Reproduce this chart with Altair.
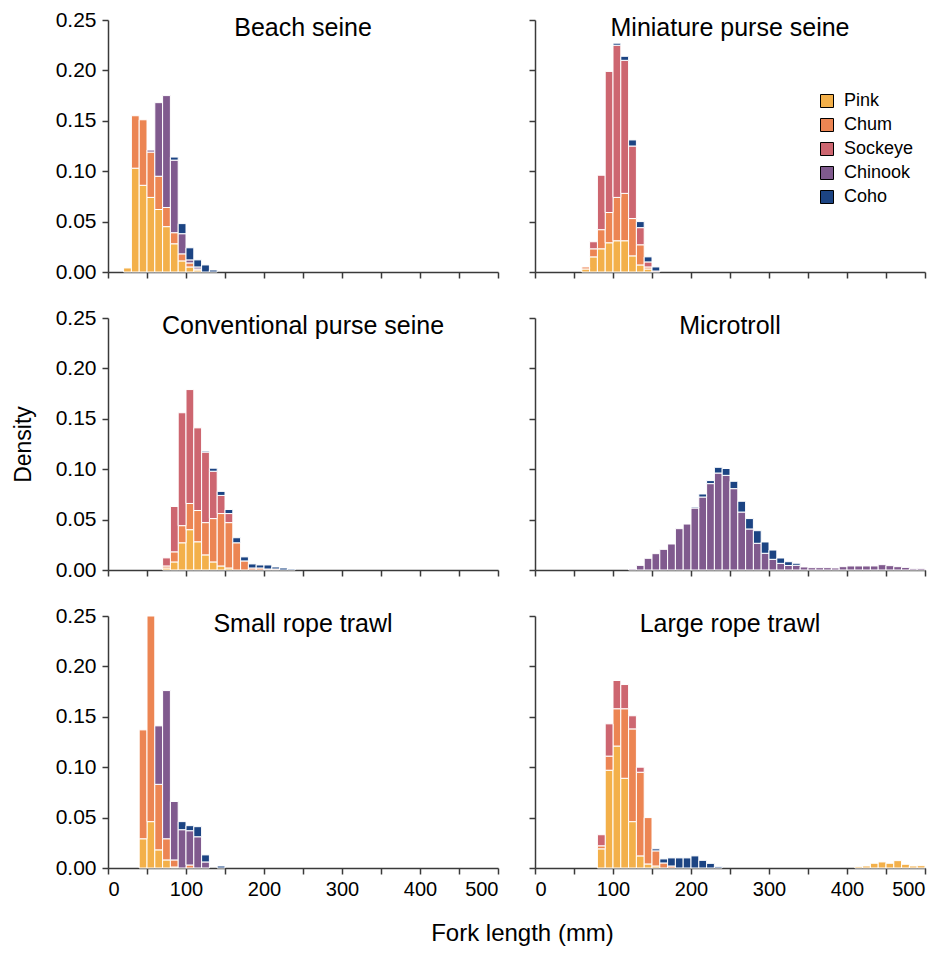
import altair as alt
import pandas as pd

species = ["Pink", "Chum", "Sockeye", "Chinook", "Coho"]
colors = ["#F3B04A", "#EC8553", "#CD6670", "#805A8E", "#1C4483"]

# Beach seine (bin starts, 10 mm bins)
beach_bins = [20, 30, 40, 50, 60, 70, 80, 90, 100, 110, 120, 130]
beach_pink = [0.004, 0.103, 0.086, 0.074, 0.062, 0.045, 0.028, 0.011, 0.005, 0.002, 0, 0]
beach_chum = [0, 0.052, 0.065, 0.045, 0.033, 0.019, 0.011, 0.007, 0.004, 0.001, 0, 0]
beach_chinook = [0, 0, 0, 0.002, 0.073, 0.111, 0.072, 0.020, 0.003, 0.002, 0, 0]
beach_coho = [0, 0, 0, 0, 0, 0, 0.003, 0.010, 0.012, 0.007, 0.007, 0.002]

# Miniature purse seine
mini_bins = [60, 70, 80, 90, 100, 110, 120, 130, 140, 150]
mini_pink = [0.003, 0.015, 0.023, 0.029, 0.031, 0.031, 0.016, 0.007, 0.003, 0]
mini_chum = [0.002, 0.008, 0.019, 0.030, 0.043, 0.047, 0.037, 0.020, 0.002, 0]
mini_sockeye = [0, 0.007, 0.054, 0.140, 0.151, 0.132, 0.072, 0.017, 0.005, 0.001]
mini_coho = [0, 0, 0, 0, 0.002, 0.004, 0.006, 0.006, 0.005, 0.004]

# Conventional purse seine
conv_bins = [70, 80, 90, 100, 110, 120, 130, 140, 150, 160, 170, 180, 190, 200, 210, 220, 230]
conv_pink = [0.002, 0.008, 0.027, 0.040, 0.028, 0.015, 0.008, 0.004, 0.002, 0, 0, 0, 0, 0, 0, 0, 0]
conv_chum = [0.002, 0.010, 0.017, 0.026, 0.031, 0.032, 0.043, 0.052, 0.045, 0.027, 0.009, 0.002, 0.002, 0.001, 0.001, 0, 0]
conv_sockeye = [0.008, 0.045, 0.112, 0.113, 0.082, 0.070, 0.047, 0.018, 0.009, 0, 0, 0, 0, 0, 0, 0, 0]
conv_coho = [0, 0, 0, 0, 0, 0.001, 0.003, 0.004, 0.004, 0.005, 0.004, 0.004, 0.003, 0.004, 0.002, 0.002, 0.001]

# Microtroll
micro_bins = [120, 130, 140, 150, 160, 170, 180, 190, 200, 210, 220, 230, 240, 250, 260, 270, 280, 290, 300,
              310, 320, 330, 340, 350, 360, 370, 380, 390, 400, 410, 420, 430, 440, 450, 460, 470, 480, 490]
micro_chinook = [0.001, 0.0046, 0.0116, 0.0162, 0.0205, 0.0258, 0.041, 0.0456, 0.0615, 0.0724, 0.0857, 0.0962,
                 0.0939, 0.0807, 0.0575, 0.0407, 0.0265, 0.0166, 0.0106, 0.0066, 0.0045, 0.0047, 0.003, 0.0023,
                 0.0023, 0.0023, 0.002, 0.0033, 0.004, 0.004, 0.004, 0.004, 0.0053, 0.0043, 0.0033, 0.0026,
                 0.0013, 0.0016]
micro_coho = [0, 0, 0, 0, 0, 0, 0, 0, 0.001, 0.003, 0.003, 0.0057, 0.0068, 0.0073, 0.0107, 0.0103, 0.0125,
              0.0112, 0.0092, 0.0053, 0.0037, 0.002, 0, 0, 0, 0, 0, 0, 0, 0, 0, 0, 0, 0, 0, 0, 0, 0]

# Small rope trawl
small_bins = [40, 50, 60, 70, 80, 90, 100, 110, 120, 130, 140]
small_pink = [0.029, 0.046, 0.018, 0.008, 0.001, 0, 0, 0, 0, 0, 0]
small_chum = [0.108, 0.204, 0.065, 0.021, 0.007, 0, 0.003, 0, 0, 0, 0]
small_chinook = [0, 0, 0.058, 0.147, 0.058, 0.038, 0.034, 0.031, 0.006, 0, 0]
small_coho = [0, 0, 0, 0, 0, 0.008, 0.005, 0.010, 0.007, 0, 0.002]

# Large rope trawl
large_bins = [80, 90, 100, 110, 120, 130, 140, 150, 160, 170, 180, 190, 200, 210, 220, 230,
              410, 420, 430, 440, 450, 460, 470, 480, 490]
large_pink = [0.019, 0.097, 0.121, 0.089, 0.046, 0.012, 0.004, 0.002, 0, 0, 0, 0, 0, 0, 0, 0,
              0.0013, 0.002, 0.0047, 0.006, 0.0047, 0.0073, 0.0037, 0.002, 0.0023]
large_chum = [0.003, 0.014, 0.037, 0.069, 0.092, 0.083, 0.046, 0.015, 0.005, 0.002, 0, 0, 0, 0, 0, 0,
              0, 0, 0, 0, 0, 0, 0, 0, 0]
large_sockeye = [0.011, 0.032, 0.028, 0.024, 0.013, 0.005, 0, 0, 0, 0, 0, 0, 0, 0, 0, 0,
                 0, 0, 0, 0, 0, 0, 0, 0, 0]
large_coho = [0, 0, 0, 0, 0, 0, 0, 0.002, 0.004, 0.008, 0.010, 0.010, 0.012, 0.0076, 0.0046, 0.0013,
              0, 0, 0, 0, 0, 0, 0, 0, 0]

BIN = 10
FONT = "Liberation Sans"
W, H = 390, 252
AX = "#3a3a3a"

legend = alt.Legend(orient="none", legendX=710, legendY=72, title=None, symbolType="square",
                    symbolSize=169, symbolStrokeColor="black", symbolStrokeWidth=1,
                    symbolOpacity=1, labelFontSize=18, labelFont=FONT, rowPadding=6,
                    labelOffset=8, padding=0)


def panel(name, bins, series, row, col):
    recs = []
    for sp, vals in series.items():
        k = species.index(sp)
        for b, v in zip(bins, vals):
            if v > 0:
                recs.append({"species": sp, "ord": k, "start": b, "end": b + BIN, "value": v})
    df = pd.DataFrame(recs)
    bottom = row == 2
    left = col == 0
    xaxis_kw = dict(values=list(range(0, 501, 50)), labels=bottom,
                    labelExpr="datum.value % 100 == 0 ? datum.label : ''",
                    labelFontSize=20, labelPadding=5, tickSize=6)
    if bottom and left:
        xaxis_kw.update(titleX=414, titleY=72, titleBaseline="alphabetic", titleAlign="center",
                        titleFontSize=24, titleFontWeight="normal", titleAnchor="start")
        xt = "Fork length (mm)"
    else:
        xt = None
    yaxis_kw = dict(values=[0, 0.05, 0.10, 0.15, 0.20, 0.25], format=".2f", labels=left,
                    labelFontSize=21, labelPadding=6, tickSize=6)
    if row == 1 and left:
        yaxis_kw.update(titleFontSize=23, titleFontWeight="normal", titlePadding=20)
        yt = "Density"
    else:
        yt = None
    bars = alt.Chart(df).transform_stack(
        stack="value", groupby=["start"], as_=["y0", "y1"],
        sort=[alt.SortField("ord", order="ascending")]
    ).mark_bar(stroke="white", strokeWidth=1).encode(
        x=alt.X("start:Q", title=xt, scale=alt.Scale(domain=[0, 500], nice=False, zero=False),
                axis=alt.Axis(**xaxis_kw)),
        x2="end:Q",
        y=alt.Y("y0:Q", title=yt, scale=alt.Scale(domain=[0, 0.25], nice=False),
                axis=alt.Axis(**yaxis_kw)),
        y2="y1:Q",
        color=alt.Color("species:N", scale=alt.Scale(domain=species, range=colors), legend=legend),
    )
    ttl = alt.Chart(pd.DataFrame({"t": [name]})).mark_text(
        fontSize=25, font=FONT, baseline="middle", align="center", color="black"
    ).encode(text="t:N", x=alt.value(W / 2), y=alt.value(8))
    return alt.layer(bars, ttl).properties(width=W, height=H)


p1 = panel("Beach seine", beach_bins,
           {"Pink": beach_pink, "Chum": beach_chum, "Chinook": beach_chinook, "Coho": beach_coho}, 0, 0)
p2 = panel("Miniature purse seine", mini_bins,
           {"Pink": mini_pink, "Chum": mini_chum, "Sockeye": mini_sockeye, "Coho": mini_coho}, 0, 1)
p3 = panel("Conventional purse seine", conv_bins,
           {"Pink": conv_pink, "Chum": conv_chum, "Sockeye": conv_sockeye, "Coho": conv_coho}, 1, 0)
p4 = panel("Microtroll", micro_bins, {"Chinook": micro_chinook, "Coho": micro_coho}, 1, 1)
p5 = panel("Small rope trawl", small_bins,
           {"Pink": small_pink, "Chum": small_chum, "Chinook": small_chinook, "Coho": small_coho}, 2, 0)
p6 = panel("Large rope trawl", large_bins,
           {"Pink": large_pink, "Chum": large_chum, "Sockeye": large_sockeye, "Coho": large_coho}, 2, 1)

chart = alt.concat(p1, p2, p3, p4, p5, p6, columns=2, bounds="flush",
                   spacing={"row": 46, "column": 37}).properties(
    padding={"left": 3, "top": 0, "right": 0, "bottom": 0}
).configure(font=FONT).configure_view(
    stroke="transparent"
).configure_axis(
    domainColor=AX, tickColor=AX, domainWidth=1.5, tickWidth=1.5, grid=False,
    labelColor="black", titleColor="black", labelFont=FONT, titleFont=FONT
)

chart.save("out.html", embed_options={"renderer": "svg", "actions": False})
